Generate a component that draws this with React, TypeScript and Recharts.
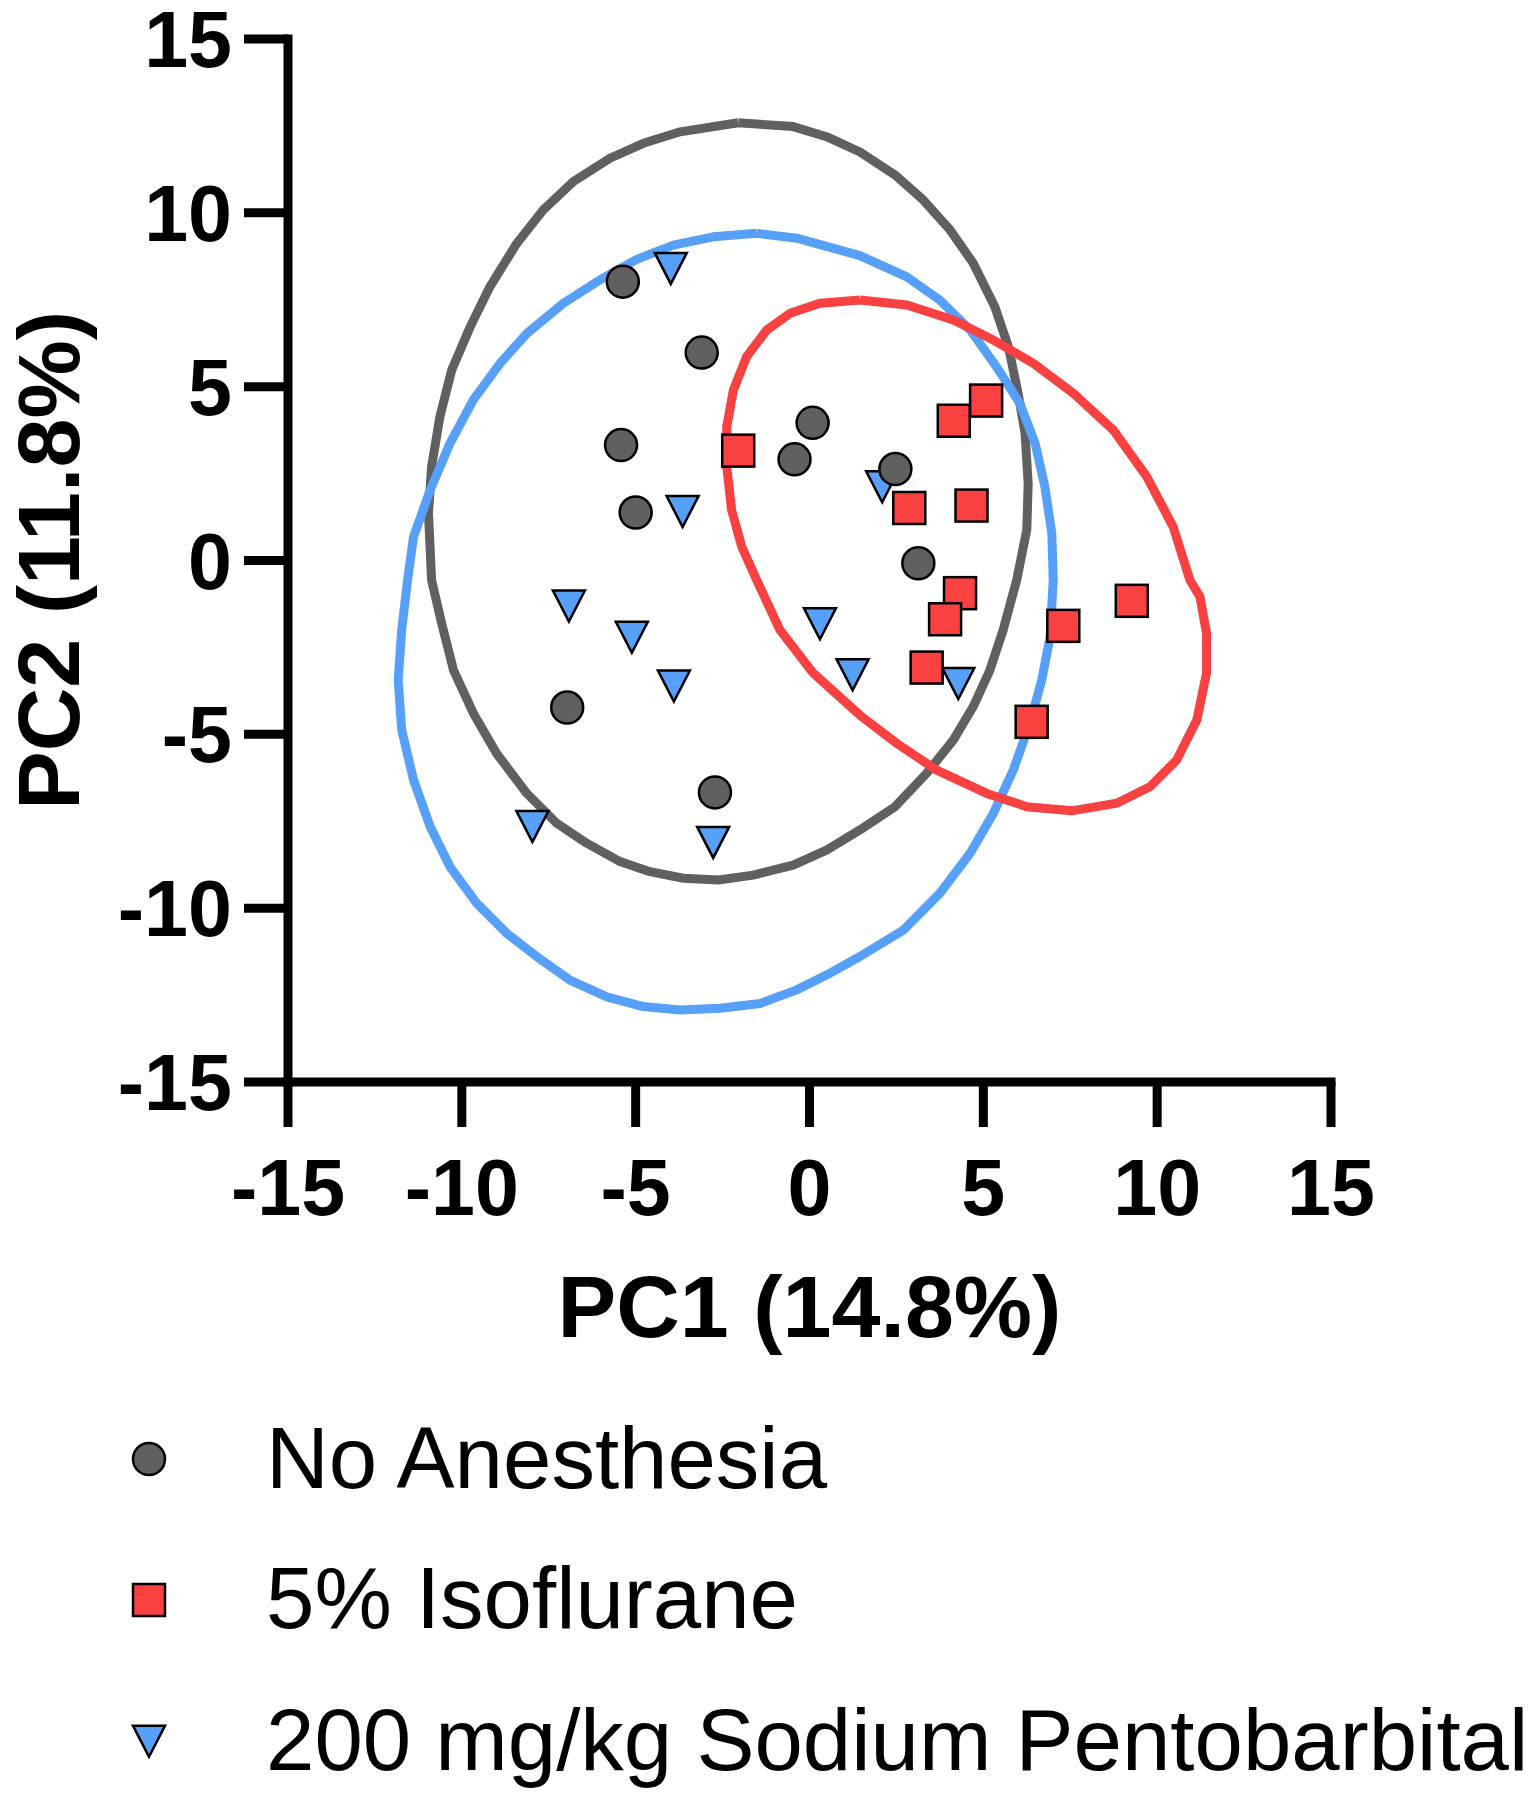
import React from 'react';
import { ScatterChart, Scatter, XAxis, YAxis } from 'recharts';

const axisTicks = [-15, -10, -5, 0, 5, 10, 15];

const xTitle = 'PC1 (14.8%)';
const yTitle = 'PC2 (11.8%)';

const groupNames = ['No Anesthesia', '5% Isoflurane', '200 mg/kg Sodium Pentobarbital'];

// [PC1, PC2] per sample
const noAnesthesia = [
  [-5.37, 8.02], [-3.1, 5.98], [-5.42, 3.32], [-5.0, 1.38], [0.09, 3.96],
  [-0.43, 2.91], [2.47, 2.63], [3.13, -0.08], [-6.97, -4.23], [-2.72, -6.67],
];

const isoflurane = [
  [-2.05, 3.16], [4.15, 4.02], [5.08, 4.6], [2.87, 1.51], [4.66, 1.58], [4.33, -0.94],
  [3.9, -1.69], [9.27, -1.16], [7.3, -1.88], [3.37, -3.08], [6.39, -4.64],
];

const pentobarbital = [
  [-3.99, 8.55], [-3.65, 1.56], [-6.92, -1.16], [-5.11, -2.06], [-3.9, -3.46], [0.3, -1.67],
  [1.24, -3.14], [4.28, -3.39], [2.09, 2.27], [-7.97, -7.5], [-2.77, -7.96],
];

// outlines of the group ellipses
const noAnesthesiaEllipse = [
  [-2.05, 12.59], [-3.72, 12.33], [-4.78, 12.0], [-5.74, 11.57], [-6.79, 10.9], [-7.66, 10.08],
  [-8.42, 9.12], [-9.19, 7.88], [-9.76, 6.72], [-10.29, 5.48], [-10.63, 4.14], [-10.87, 2.7],
  [-10.96, 1.36], [-10.87, -0.56], [-10.58, -1.81], [-10.24, -3.15], [-9.67, -4.39], [-9.0, -5.55],
  [-8.13, -6.7], [-7.27, -7.56], [-6.41, -8.13], [-5.45, -8.66], [-4.59, -8.95], [-3.63, -9.14],
  [-2.62, -9.19], [-1.62, -9.05], [-0.47, -8.76], [0.49, -8.33], [1.45, -7.75], [2.46, -7.08],
  [3.37, -6.12], [4.14, -5.16], [4.71, -4.2], [5.19, -3.15], [5.57, -2.0], [5.96, -0.56],
  [6.25, 0.88], [6.29, 2.22], [6.2, 3.66], [6.0, 4.81], [5.72, 6.15], [5.33, 7.3], [4.71, 8.55],
  [4.04, 9.51], [3.27, 10.37], [2.46, 11.09], [1.45, 11.75], [0.49, 12.19], [-0.47, 12.48],
  [-2.05, 12.59],
];

const isofluraneEllipse = [
  [1.45, 7.49], [0.3, 7.4], [-0.56, 7.11], [-1.23, 6.63], [-1.81, 5.86], [-2.19, 4.9],
  [-2.38, 3.85], [-2.38, 2.7], [-2.24, 1.45], [-1.95, 0.4], [-1.52, -0.56], [-0.85, -2.0],
  [0.11, -3.24], [1.45, -4.45], [2.51, -5.26], [3.66, -6.03], [5.1, -6.7], [6.25, -7.08],
  [7.54, -7.2], [8.84, -6.98], [9.79, -6.51], [10.56, -5.74], [11.14, -4.59], [11.42, -3.24],
  [11.42, -2.09], [11.23, -1.04], [10.94, -0.56], [10.46, 0.97], [9.7, 2.41], [8.74, 3.75],
  [7.59, 4.81], [6.44, 5.67], [5.29, 6.34], [4.14, 6.92], [2.8, 7.35], [1.45, 7.49],
];

const pentobarbitalEllipse = [
  [-1.52, 9.41], [-2.77, 9.31], [-3.92, 9.07], [-4.97, 8.66], [-6.03, 8.07], [-7.08, 7.4],
  [-8.13, 6.53], [-8.9, 5.67], [-9.67, 4.62], [-10.34, 3.37], [-10.91, 2.03], [-11.39, 0.68],
  [-11.56, -0.56], [-11.73, -2.0], [-11.83, -3.44], [-11.73, -4.87], [-11.39, -6.31],
  [-10.91, -7.66], [-10.34, -8.81], [-9.57, -9.86], [-8.71, -10.72], [-7.85, -11.39],
  [-6.89, -12.07], [-5.83, -12.55], [-4.78, -12.83], [-3.72, -12.93], [-2.57, -12.88],
  [-1.42, -12.74], [-0.37, -12.35], [0.59, -11.87], [1.45, -11.39], [2.7, -10.63], [3.75, -9.57],
  [4.62, -8.42], [5.29, -7.27], [5.86, -6.03], [6.34, -4.68], [6.68, -3.44], [6.92, -2.19],
  [7.01, -0.56], [6.97, 0.78], [6.77, 2.12], [6.49, 3.37], [6.05, 4.52], [5.38, 5.57],
  [4.62, 6.63], [3.75, 7.49], [2.8, 8.16], [1.45, 8.77], [-0.37, 9.27], [-1.52, 9.41],
];

const toPoints = (pairs: number[][]) => pairs.map(([x, y]) => ({ x, y }));

const FONT = '"Liberation Sans", Arial, Helvetica, sans-serif';
const GRAY = '#606060';
const RED = '#F94141';
const BLUE = '#57A0F9';
const OUTLINE = { stroke: '#000', strokeWidth: 2.5 };

const circleMark = (color: string) => (p: any) => (
  <circle cx={p.cx} cy={p.cy} r={16} fill={color} {...OUTLINE} />
);
const squareMark = (color: string) => (p: any) => (
  <rect x={p.cx - 16} y={p.cy - 16} width={32} height={32} fill={color} {...OUTLINE} />
);
const triangleMark = (color: string) => (p: any) => (
  <path
    d={`M${p.cx - 16},${p.cy - 10.3}L${p.cx + 16},${p.cy - 10.3}L${p.cx},${p.cy + 20.7}Z`}
    fill={color}
    strokeLinejoin="miter"
    {...OUTLINE}
  />
);
const noMark = () => <g />;

const axisLine = { stroke: '#000', strokeWidth: 9, strokeLinecap: 'square' as const };
const tickLine = { stroke: '#000', strokeWidth: 9 };
const tickStyle = { fill: '#000', fontSize: 79, fontWeight: 700, fontFamily: FONT };
const titleStyle = { fill: '#000', fontSize: 88, fontWeight: 700, fontFamily: FONT };
const ellipseLine = (color: string) => ({ stroke: color, strokeWidth: 9, fill: 'none', strokeLinejoin: 'round' as const });

const legendRows = [
  { name: groupNames[0], mark: circleMark(GRAY), cy: 71, base: 100 },
  { name: groupNames[1], mark: squareMark(RED), cy: 212, base: 240 },
  { name: groupNames[2], mark: triangleMark(BLUE), cy: 348, base: 382 },
];

const App: React.FC = () => {
  return (
    <div style={{ width: 1521, fontFamily: FONT }}>
      <style>{'.recharts-surface { overflow: visible; }'}</style>
      <ScatterChart width={1521} height={1380} margin={{ top: 31, right: 198, bottom: 6, left: 0 }}>
        <XAxis
          type="number"
          dataKey="x"
          domain={[-15, 15]}
          ticks={axisTicks}
          interval={0}
          height={300}
          axisLine={axisLine}
          tickLine={tickLine}
          tickSize={45}
          tickMargin={32}
          tick={tickStyle}
          label={{ value: xTitle, position: 'insideBottom', offset: 45, style: titleStyle }}
        />
        <YAxis
          type="number"
          dataKey="y"
          domain={[-15, 15]}
          ticks={axisTicks}
          interval={0}
          width={280}
          axisLine={axisLine}
          tickLine={tickLine}
          tickSize={44}
          tickMargin={12}
          tick={tickStyle}
          label={{
            value: yTitle,
            angle: -90,
            position: 'insideLeft',
            offset: 40,
            style: { ...titleStyle, textAnchor: 'middle' },
          }}
        />
        <Scatter data={toPoints(noAnesthesiaEllipse)} shape={noMark} line={ellipseLine(GRAY)} isAnimationActive={false} />
        <Scatter data={toPoints(pentobarbitalEllipse)} shape={noMark} line={ellipseLine(BLUE)} isAnimationActive={false} />
        <Scatter data={toPoints(isofluraneEllipse)} shape={noMark} line={ellipseLine(RED)} isAnimationActive={false} />
        <Scatter name={groupNames[2]} data={toPoints(pentobarbital)} shape={triangleMark(BLUE)} isAnimationActive={false} />
        <Scatter name={groupNames[1]} data={toPoints(isoflurane)} shape={squareMark(RED)} isAnimationActive={false} />
        <Scatter name={groupNames[0]} data={toPoints(noAnesthesia)} shape={circleMark(GRAY)} isAnimationActive={false} />
      </ScatterChart>

      <svg width={1521} height={404} style={{ display: 'block' }}>
        {legendRows.map((row) => (
          <g key={row.name}>
            {row.mark({ cx: 141, cy: row.cy })}
            <text x={258} y={row.base} fontSize={87} fontFamily={FONT} fill="#000">
              {row.name}
            </text>
          </g>
        ))}
      </svg>
    </div>
  );
};

export default App;
